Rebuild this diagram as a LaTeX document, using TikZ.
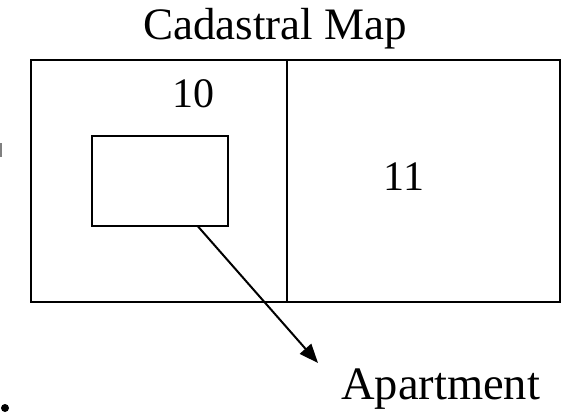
\documentclass[tikz,border=0pt]{standalone}
\usepackage{fontspec}
\setmainfont{Liberation Serif}
\usetikzlibrary{arrows.meta,calc}
\begin{document}
\begin{tikzpicture}[x=1pt,y=-1pt,
  cell/.style={draw=black,line width=2pt,inner sep=0pt,outer sep=0pt},
  lbl/.style={inner sep=0pt,anchor=base},
  conn/.style={draw=black,line width=2pt,-{Triangle[length=19pt,width=15pt]}}]
\useasboundingbox (0,0) rectangle (569,414);
% cells
\node[cell,minimum width=256pt,minimum height=242pt,anchor=north west] (p10) at (31,60) {};
\node[cell,minimum width=273pt,minimum height=242pt,anchor=north west] (p11) at (287,60) {};
\node[cell,minimum width=136pt,minimum height=90.5pt,anchor=north west] (apt) at (91.7,135.7) {};
% labels
\node[lbl,font=\fontsize{45}{50}\selectfont] (title) at (275,40) {Cadastral Map};
\node[lbl,font=\fontsize{42}{46}\selectfont] (n10) at (193,108) {10};
\node[lbl,font=\fontsize{42}{46}\selectfont] (n11) at (404,190) {11};
\node[lbl,font=\fontsize{46.5}{50}\selectfont,anchor=base west] (aptlbl) at (341,399) {Apartment};
% connector
\coordinate (astart) at ($(apt.south west)!0.78!(apt.south east)$);
\coordinate (atip) at (318,363);
\draw[conn] (astart) -- (atip);
% cut-off fragments at the left edge
\fill[black] (5,408) circle (4);
\fill[gray] (0,143) rectangle (1.5,157);
\end{tikzpicture}
\end{document}
